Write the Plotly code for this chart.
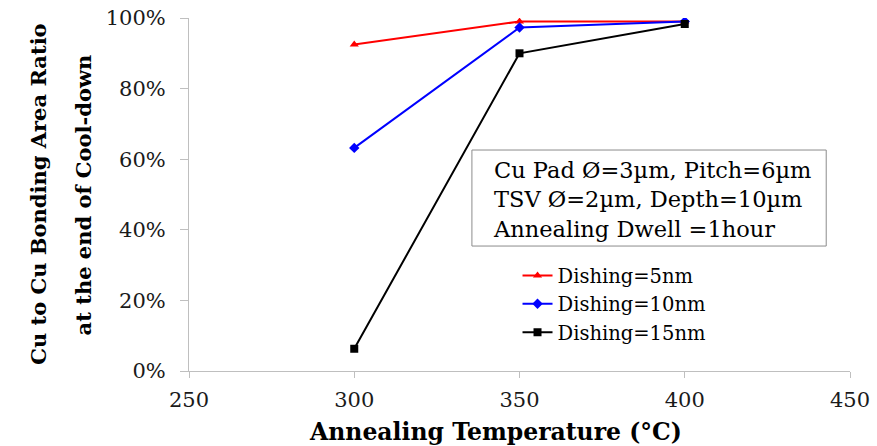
import plotly.graph_objects as go

temps = [300, 350, 400]
dish5 = [0.925, 0.99, 0.99]
dish10 = [0.632, 0.973, 0.99]
dish15 = [0.063, 0.90, 0.983]
names = ["Dishing=5nm", "Dishing=10nm", "Dishing=15nm"]
colors = ["#ff0000", "#0000ff", "#000000"]
symbols = ["triangle-up", "diamond", "square"]
x_ticks = [250, 300, 350, 400, 450]
y_ticks = [0, 0.2, 0.4, 0.6, 0.8, 1.0]
x_title = "Annealing Temperature (°C)"
y_title_lines = ["Cu to Cu Bonding Area Ratio", "at the end of Cool-down"]
info_lines = ["Cu Pad Ø=3µm, Pitch=6µm", "TSV Ø=2µm, Depth=10µm", "Annealing Dwell =1hour"]

FONT = "DejaVu Serif, Liberation Serif, serif"

fig = go.Figure()
for vals, name, c, s in zip([dish5, dish10, dish15], names, colors, symbols):
    fig.add_trace(go.Scatter(x=temps, y=vals, name=name, mode="lines+markers",
                             line=dict(color=c, width=2),
                             marker=dict(symbol=s, size=8, color=c)))

fig.update_layout(
    width=877, height=446,
    margin=dict(l=189, r=27, t=18, b=75, autoexpand=False),
    plot_bgcolor="white", paper_bgcolor="white",
    font=dict(family=FONT, size=20, color="#1a1a1a"),
    showlegend=True,
    legend=dict(x=0.497, y=0.325, xanchor="left", yanchor="top",
                bgcolor="rgba(0,0,0,0)", font=dict(family=FONT, size=19.5, color="#000"),
                itemwidth=30, tracegroupgap=0),
    xaxis=dict(range=[250, 450], tickvals=x_ticks, showgrid=False, zeroline=False,
               showline=True, linecolor="#bfbfbf", linewidth=1, automargin=False,
               ticks="outside", tickcolor="#bfbfbf", ticklen=6,
               ticklabelstandoff=4,
               tickfont=dict(family=FONT, size=21, color="#1a1a1a")),
    yaxis=dict(range=[0, 1.0], tickvals=y_ticks, tickformat=".0%", showgrid=False,
               zeroline=False, showline=True, linecolor="#bfbfbf", linewidth=1,
               automargin=False,
               ticks="outside", tickcolor="#bfbfbf", ticklen=8,
               ticklabelstandoff=10,
               tickfont=dict(family=FONT, size=21, color="#1a1a1a")),
)

fig.add_annotation(
    text="<b>" + x_title + "</b>",
    xref="paper", yref="paper", x=0.463, y=-0.173, xanchor="center", yanchor="middle",
    showarrow=False, font=dict(family=FONT, size=23.5, color="#000"))

for line, xp in zip(y_title_lines, [-0.228, -0.159]):
    fig.add_annotation(
        text="<b>" + line + "</b>",
        xref="paper", yref="paper", x=xp, y=0.5, xanchor="center", yanchor="middle",
        textangle=-90, showarrow=False, font=dict(family=FONT, size=21, color="#000"))

fig.add_shape(type="rect", xref="paper", yref="paper",
              x0=0.428, x1=0.964, y0=0.354, y1=0.626,
              line=dict(color="#8c8c8c", width=1), fillcolor="white", layer="below")

fig.add_annotation(
    text="<br>".join(info_lines),
    xref="paper", yref="paper", x=0.457, y=0.485, xanchor="left", yanchor="middle",
    align="left", showarrow=False, font=dict(family=FONT, size=22.5, color="#000"))

fig.write_html("out.html", post_script="document.body.style.margin='0';",
               config={"displayModeBar": False})
